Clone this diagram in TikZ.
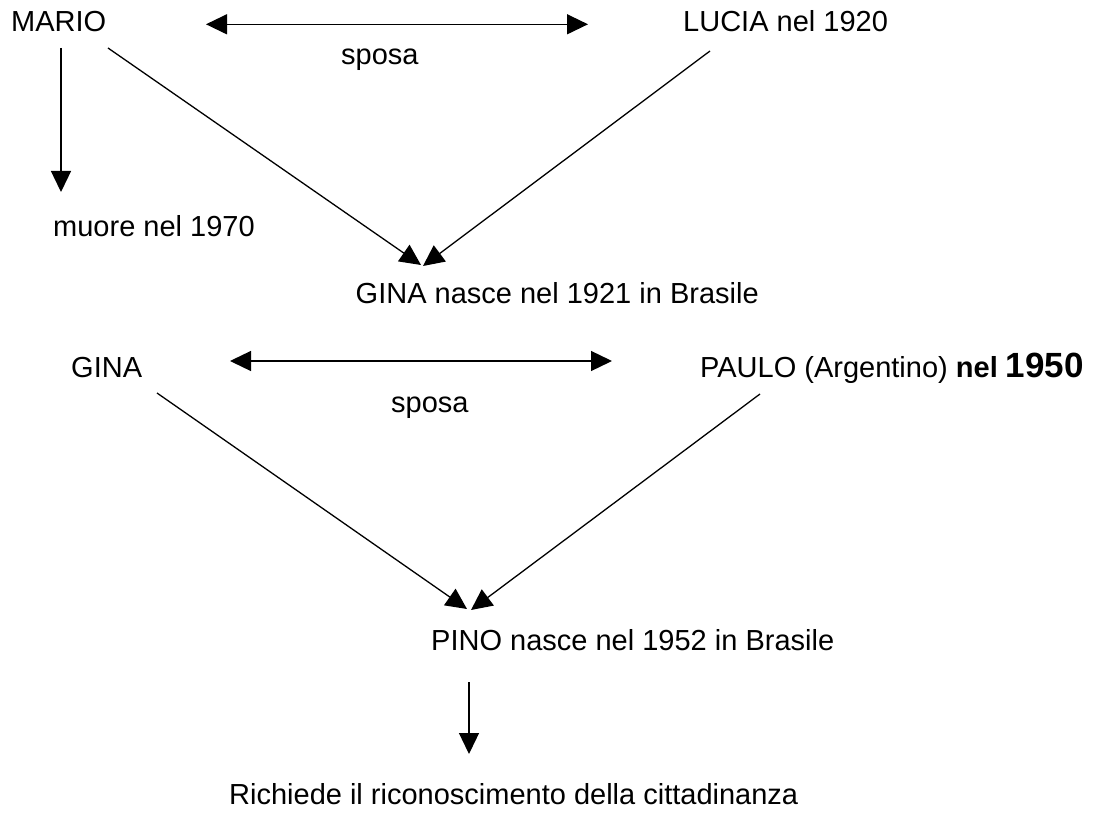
\documentclass[tikz,border=0pt]{standalone}
\usepackage{fontspec}
\setmainfont{Liberation Sans}
\usetikzlibrary{arrows.meta}
\begin{document}
\begin{tikzpicture}[x=1pt,y=-1pt,
  txt/.style={inner sep=0pt, anchor=base west, font=\fontsize{29pt}{34pt}\selectfont},
  link/.style={line width=1.3pt, -{Triangle[length=21pt,width=20pt]}},
  wed/.style={line width=1.3pt, {Triangle[length=21pt,width=20pt]}-{Triangle[length=21pt,width=20pt]}}]
\useasboundingbox (0,0) rectangle (1101,821);

% first generation
\node[txt] (mario) at (11,32) {MARIO};
\node[txt] (lucia) at (683,32) {LUCIA nel 1920};
\node[txt] (sposa1) at (341,65) {sposa};
\node[txt] (muore) at (53,237) {muore nel 1970};
\node[txt] (gina1) at (355.5,303) {GINA nasce nel 1921 in Brasile};

\coordinate (w1l) at (206,24.3);
\coordinate (w1r) at (588,24.3);
\coordinate (marioD) at (61,48);
\coordinate (muoreT) at (61,192);
\coordinate (marioS) at (108,48);
\coordinate (luciaS) at (710,51);
\coordinate (gina1a) at (421,265);
\coordinate (gina1b) at (423,266);

\draw[wed] (w1l) -- (w1r);
\draw[link] (marioD) -- (muoreT);
\draw[link] (marioS) -- (gina1a);
\draw[link] (luciaS) -- (gina1b);

% second generation
\node[txt] (gina) at (71,377) {GINA};
\node[txt] (paulo) at (700,377) {PAULO (Argentino) \textbf{nel} \textbf{\fontsize{35pt}{40pt}\selectfont 1950}};
\node[txt] (sposa2) at (391,412) {sposa};
\node[txt] (pino) at (431,650) {PINO nasce nel 1952 in Brasile};
\node[txt] (richiede) at (229,804) {Richiede il riconoscimento della cittadinanza};

\coordinate (w2l) at (230,361);
\coordinate (w2r) at (612,361);
\coordinate (ginaS) at (157,393);
\coordinate (pauloS) at (760,394);
\coordinate (pinoa) at (467,609);
\coordinate (pinob) at (471,610);
\coordinate (pinoD) at (469,682);
\coordinate (richT) at (469,754);

\draw[wed] (w2l) -- (w2r);
\draw[link] (ginaS) -- (pinoa);
\draw[link] (pauloS) -- (pinob);
\draw[link] (pinoD) -- (richT);
\end{tikzpicture}
\end{document}
